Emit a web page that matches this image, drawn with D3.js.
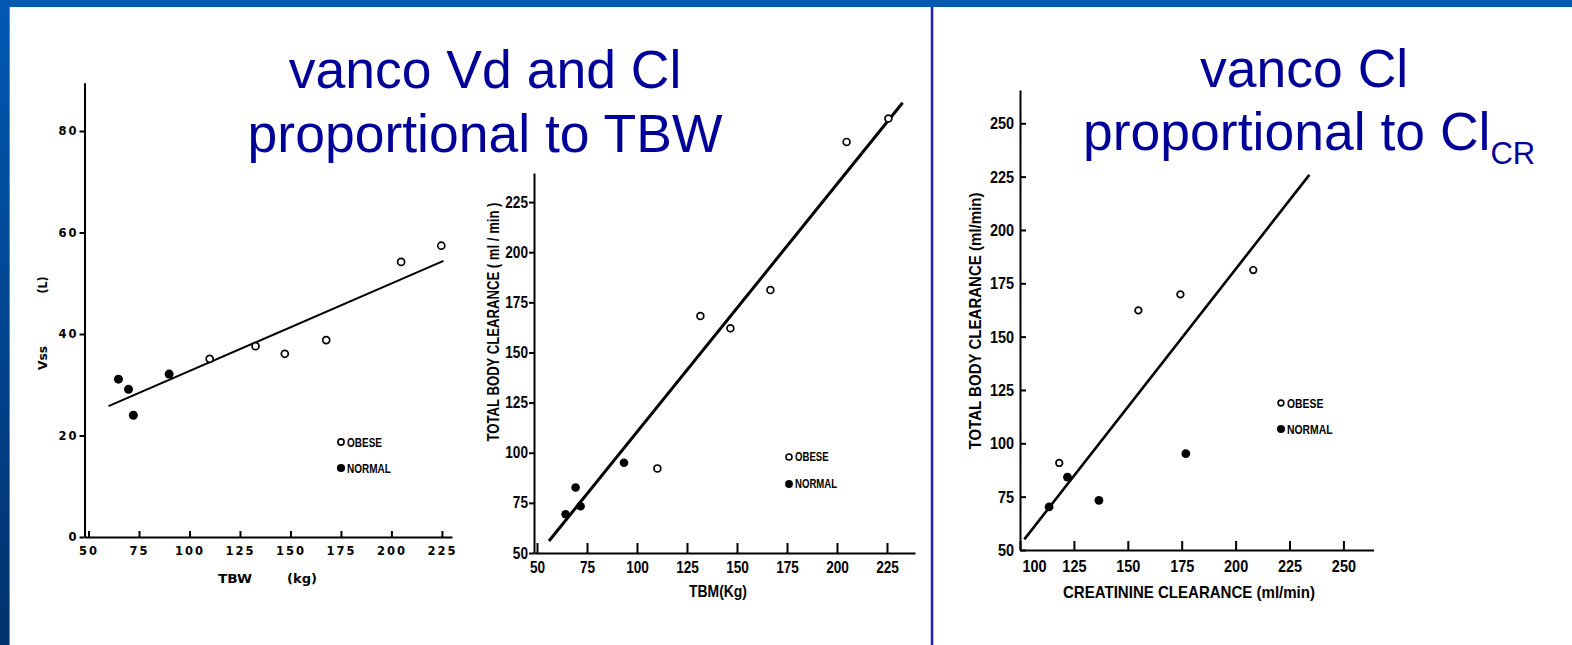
<!DOCTYPE html>
<html>
<head>
<meta charset="utf-8">
<script src="https://cdn.jsdelivr.net/npm/d3@7"></script>
<style>
  html, body { margin: 0; padding: 0; background: #fff; }
  svg { display: block; }
</style>
</head>
<body>
<div id="canvas"></div>
<script>
// panel 1: Vss (L) against TBW (kg)
const vssObeseTbw = [110, 132.7, 147.2, 167.7, 204.8, 224.7];
const vssObese = [35.1, 37.6, 36.1, 38.8, 54.2, 57.4];
const vssNormalTbw = [64.8, 69.8, 72.2, 89.9];
const vssNormal = [31.1, 29.1, 24.0, 32.1];
const vssFitTbw = [59.9, 225.8];
const vssFit = [25.8, 54.4];
const vssTicks = [0, 20, 40, 60, 80];
const tbwTicks = [50, 75, 100, 125, 150, 175, 200, 225];

// panel 2: total body clearance against TBM
const tbcObeseTbm = [110.2, 131.7, 146.7, 166.7, 204.8, 225.7];
const tbcObese = [92.2, 168.2, 162.1, 181.1, 255.0, 266.7];
const tbcNormalTbm = [64.3, 69.3, 71.8, 93.5];
const tbcNormal = [69.3, 82.7, 73.3, 95.0];
const tbcFitTbm = [56, 232.8];
const tbcFit = [56, 274.5];
const tbcTicks = [50, 75, 100, 125, 150, 175, 200, 225];
const tbmTicks = [50, 75, 100, 125, 150, 175, 200, 225];

// panel 3: total body clearance against creatinine clearance
const crObeseClcr = [118.2, 154.9, 174.4, 208.2];
const crObese = [90.8, 162.3, 169.8, 181.2];
const crNormalClcr = [113.5, 122, 136.6, 176.9];
const crNormal = [70.2, 84.2, 73.3, 95.2];
const crFitClcr = [102, 234.2];
const crFit = [55, 225.8];
const crYTicks = [50, 75, 100, 125, 150, 175, 200, 225, 250];
const crXTicks = [100, 125, 150, 175, 200, 225, 250];

const W = 1572, H = 645;
const SANS = '"Liberation Sans", Arial, sans-serif';
const WIDE = '"DejaVu Sans", Verdana, sans-serif';

const svg = d3.select('#canvas').append('svg')
    .attr('width', W)
    .attr('height', H);

// squeeze text horizontally, the scans use a condensed face
function squeeze(sel, factor) {
    sel.each(function () {
        const w = this.getComputedTextLength();
        d3.select(this)
            .attr('textLength', w * factor)
            .attr('lengthAdjust', 'spacingAndGlyphs');
    });
}

// slide frame
const grad = svg.append('defs').append('linearGradient')
    .attr('id', 'side')
    .attr('x1', 0).attr('y1', 0).attr('x2', 0).attr('y2', 1);
grad.append('stop').attr('offset', '0%').attr('stop-color', '#0059b3');
grad.append('stop').attr('offset', '100%').attr('stop-color', '#00326c');

svg.append('rect').attr('x', 0).attr('y', 0).attr('width', W).attr('height', 7).attr('fill', '#0059b3');
svg.append('rect').attr('x', 0).attr('y', 0).attr('width', 9).attr('height', H).attr('fill', 'url(#side)');
svg.append('line').attr('x1', 9.5).attr('x2', 9.5).attr('y1', 7).attr('y2', H)
    .attr('stroke', '#4d89c9').attr('stroke-width', 1);
svg.append('line').attr('x1', 932).attr('x2', 932).attr('y1', 7).attr('y2', H)
    .attr('stroke', '#1c1cc8').attr('stroke-width', 2.5);

function drawPanel(p) {
    const g = svg.append('g');
    const x = d3.scaleLinear().domain(p.xDomain).range(p.xRange);
    const y = d3.scaleLinear().domain(p.yDomain).range(p.yRange);

    // regression line
    g.append('line')
        .attr('x1', x(p.fitX[0])).attr('y1', y(p.fitY[0]))
        .attr('x2', x(p.fitX[1])).attr('y2', y(p.fitY[1]))
        .attr('stroke', '#000')
        .attr('stroke-width', p.fitWidth);

    const xAxis = d3.axisBottom(x)
        .tickValues(p.xTicks)
        .tickSizeInner(-p.xTickLen)
        .tickSizeOuter(0)
        .tickPadding(p.xPad);
    const yAxis = d3.axisLeft(y)
        .tickValues(p.yTicks)
        .tickSizeInner(p.yTickLen)
        .tickSizeOuter(0)
        .tickPadding(p.yPad);

    const gx = g.append('g')
        .attr('transform', 'translate(0,' + y(p.yDomain[0]) + ')')
        .call(xAxis);
    const gy = g.append('g')
        .attr('transform', 'translate(' + x(p.xDomain[0]) + ',0)')
        .call(yAxis);

    [gx, gy].forEach(function (a) {
        a.select('.domain').attr('stroke', '#000').attr('stroke-width', 2);
        a.selectAll('.tick line').attr('stroke', '#000').attr('stroke-width', 2);
        const txt = a.selectAll('.tick text')
            .attr('fill', '#000')
            .style('font-family', p.font)
            .style('font-weight', p.weight)
            .style('font-size', p.tickSize + 'px')
            .style('letter-spacing', p.spacing + 'px');
        if (p.squeeze) squeeze(txt, p.squeeze);
    });
    if (p.firstXShift) {
        gx.select('.tick text').attr('dx', p.firstXShift);
    }

    // points: obese open, normal filled
    const obese = p.obeseX.map(function (v, i) { return [v, p.obeseY[i]]; });
    const normal = p.normalX.map(function (v, i) { return [v, p.normalY[i]]; });

    g.append('g').selectAll('circle')
        .data(normal)
        .enter()
        .append('circle')
        .attr('cx', function (d) { return x(d[0]); })
        .attr('cy', function (d) { return y(d[1]); })
        .attr('r', p.dotR)
        .style('fill', '#000');

    g.append('g').selectAll('circle')
        .data(obese)
        .enter()
        .append('circle')
        .attr('cx', function (d) { return x(d[0]); })
        .attr('cy', function (d) { return y(d[1]); })
        .attr('r', p.ringR)
        .style('fill', '#fff')
        .style('stroke', '#000')
        .style('stroke-width', 1.7);

    // legend
    const lg = g.append('g').attr('transform', 'translate(' + p.legend[0] + ',' + p.legend[1] + ')');
    lg.append('circle').attr('cx', 0).attr('cy', 0).attr('r', p.ringR - 0.4)
        .style('fill', '#fff').style('stroke', '#000').style('stroke-width', 1.6);
    lg.append('circle').attr('cx', 0).attr('cy', p.legendGap).attr('r', p.dotR - 0.4)
        .style('fill', '#000');
    const ltxt = lg.selectAll('text')
        .data(['OBESE', 'NORMAL'])
        .enter()
        .append('text')
        .attr('x', 6)
        .attr('y', function (d, i) { return i * p.legendGap; })
        .attr('dy', '0.36em')
        .style('font-family', SANS)
        .style('font-weight', 'bold')
        .style('font-size', p.legendSize + 'px')
        .text(function (d) { return d; });
    squeeze(ltxt, 0.8);

    // axis titles: [text, x, y, width]
    p.xTitles.forEach(function (t) {
        g.append('text')
            .attr('x', t[1]).attr('y', t[2])
            .attr('text-anchor', 'middle')
            .attr('textLength', t[3])
            .attr('lengthAdjust', 'spacingAndGlyphs')
            .style('font-family', p.font)
            .style('font-weight', p.weight)
            .style('font-size', p.titleSize + 'px')
            .text(t[0]);
    });
    p.yTitles.forEach(function (t) {
        g.append('text')
            .attr('transform', 'translate(' + t[1] + ',' + t[2] + ') rotate(-90)')
            .attr('text-anchor', 'middle')
            .attr('textLength', t[3])
            .attr('lengthAdjust', 'spacingAndGlyphs')
            .style('font-family', p.font)
            .style('font-weight', p.weight)
            .style('font-size', p.titleSize + 'px')
            .text(t[0]);
    });
}

drawPanel({
    xDomain: [48, 230], xRange: [84.5, 452],
    yDomain: [0, 89.5], yRange: [537, 82.8],
    xTicks: tbwTicks, yTicks: vssTicks,
    xTickLen: 6, xPad: 10, yTickLen: 5, yPad: 1,
    font: WIDE, weight: 900, tickSize: 11.5, spacing: 2, titleSize: 12,
    obeseX: vssObeseTbw, obeseY: vssObese,
    normalX: vssNormalTbw, normalY: vssNormal,
    fitX: vssFitTbw, fitY: vssFit, fitWidth: 2,
    ringR: 3.5, dotR: 4.5,
    legend: [341, 442], legendGap: 26, legendSize: 12.5,
    xTitles: [['TBW', 235, 583, 34], ['(kg)', 302, 583, 30]],
    yTitles: [['Vss', 47, 358, 24], ['(L)', 47, 285, 17]]
});

drawPanel({
    xDomain: [48.5, 239], xRange: [534, 915],
    yDomain: [50, 239.5], yRange: [553, 173],
    xTicks: tbmTicks, yTicks: tbcTicks,
    xTickLen: 10, xPad: 9, yTickLen: 5, yPad: 1,
    font: SANS, weight: 'bold', tickSize: 16, spacing: 0, titleSize: 16, squeeze: 0.85,
    obeseX: tbcObeseTbm, obeseY: tbcObese,
    normalX: tbcNormalTbm, normalY: tbcNormal,
    fitX: tbcFitTbm, fitY: tbcFit, fitWidth: 3,
    ringR: 3.4, dotR: 4.3,
    legend: [789, 457], legendGap: 27, legendSize: 12,
    xTitles: [['TBM(Kg)', 718, 597, 58]],
    yTitles: [['TOTAL BODY CLEARANCE ( ml / min )', 499, 322, 239]]
});

drawPanel({
    xDomain: [100, 264], xRange: [1020, 1373.6],
    yDomain: [50, 265.6], yRange: [550, 90],
    xTicks: crXTicks, yTicks: crYTicks,
    xTickLen: 9, xPad: 10, yTickLen: -6, yPad: 6,
    font: SANS, weight: 'bold', tickSize: 17, spacing: 0, titleSize: 17, squeeze: 0.85,
    obeseX: crObeseClcr, obeseY: crObese,
    normalX: crNormalClcr, normalY: crNormal,
    fitX: crFitClcr, fitY: crFit, fitWidth: 2.6,
    ringR: 3.3, dotR: 4.4,
    legend: [1281, 403], legendGap: 26, legendSize: 13,
    firstXShift: 14,
    xTitles: [['CREATININE CLEARANCE (ml/min)', 1189, 598, 252]],
    yTitles: [['TOTAL BODY CLEARANCE (ml/min)', 981, 321, 257]]
});

// slide titles
const titleColor = '#000099';

const t1 = svg.append('g');
t1.selectAll('text')
    .data(['vanco Vd and Cl', 'proportional to TBW'])
    .enter()
    .append('text')
    .attr('x', 485)
    .attr('y', function (d, i) { return 88 + i * 64; })
    .attr('text-anchor', 'middle')
    .style('font-family', SANS)
    .style('font-size', '53.5px')
    .style('fill', titleColor)
    .text(function (d) { return d; });

svg.append('text')
    .attr('x', 1200).attr('y', 87)
    .style('font-family', SANS)
    .style('font-size', '53.5px')
    .style('fill', titleColor)
    .text('vanco Cl');

const t2 = svg.append('text')
    .attr('x', 1083).attr('y', 150)
    .style('font-family', SANS)
    .style('font-size', '53.5px')
    .style('fill', titleColor);
t2.append('tspan').text('proportional to Cl');
t2.append('tspan').attr('dy', 14).style('font-size', '31px').text('CR');
</script>
</body>
</html>
